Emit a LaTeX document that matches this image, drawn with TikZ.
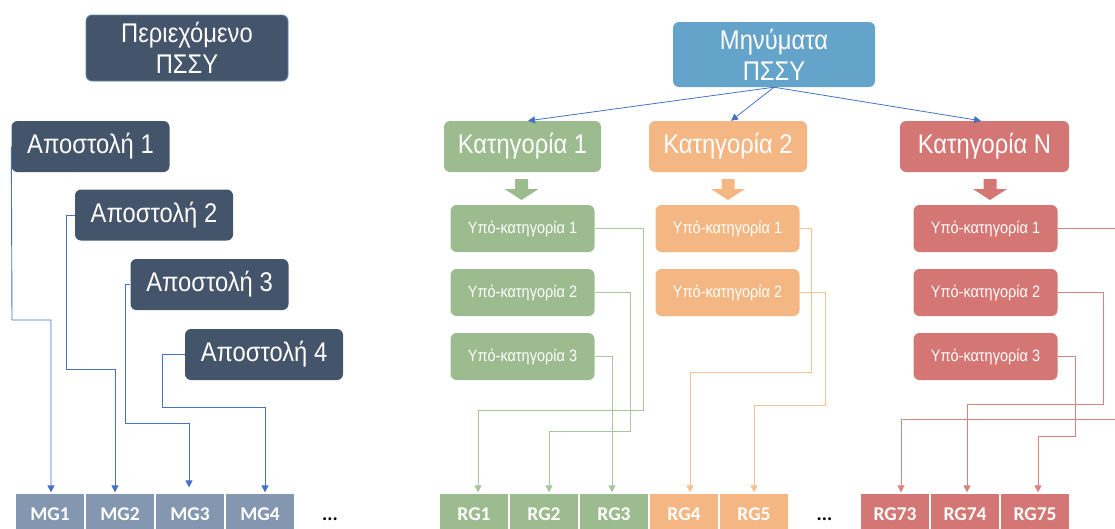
\documentclass[tikz,border=0pt]{standalone}
\usepackage{fontspec}
\setmainfont{Liberation Sans}
\newfontfamily\boxfont[FakeStretch=0.88]{Liberation Sans}
\newfontfamily\cellfamily{Carlito}
\usetikzlibrary{arrows.meta}

\definecolor{slate}{HTML}{44546A}
\definecolor{slateedge}{HTML}{5E86B0}
\definecolor{cellblue}{HTML}{8497B0}
\definecolor{msgblue}{HTML}{64A4CA}
\definecolor{linkblue}{HTML}{4472C4}
\definecolor{kgreen}{HTML}{9CBB8E}
\definecolor{korange}{HTML}{F4B783}
\definecolor{kred}{HTML}{D47674}
\definecolor{lgreen}{HTML}{A8C69B}
\definecolor{lorange}{HTML}{F7C08F}
\definecolor{lred}{HTML}{D98482}

\newcommand\bigtext{\boxfont\fontsize{27}{31}\selectfont}
\newcommand\subtext{\boxfont\fontsize{16.5}{19}\selectfont}
\newcommand\celltext{\cellfamily\bfseries\fontsize{19.5}{21}\selectfont}

\begin{document}
\begin{tikzpicture}[x=1pt,y=-1pt,
  box/.style={rounded corners=6pt, inner sep=0pt, text=white, align=center},
  big/.style={box, font=\bigtext},
  bigstep/.style={big, fill=slate, minimum width=158pt, minimum height=51pt},
  cat/.style={big, minimum height=51pt},
  sub/.style={box, font=\subtext, minimum width=144pt, minimum height=47pt},
  cell/.style={inner sep=0pt, minimum width=70pt, minimum height=42pt,
    text=white, font=\celltext, draw=white, line width=1.2pt},
  dots/.style={inner sep=0pt, font=\celltext, text=black},
  link/.style={line width=0.9pt, -{Triangle[length=7pt,width=7pt]}},
  blink/.style={link, draw=linkblue},
  glink/.style={link, draw=lgreen},
  olink/.style={link, draw=lorange},
  rlink/.style={link, draw=lred},
  downblock/.pic={\path[pic actions] (-6.5,-11) -- (6.5,-11) -- (6.5,-1)
    -- (17,-1) -- (0,10) -- (-17,-1) -- (-6.5,-1) -- cycle;},
]
\useasboundingbox (0,0) rectangle (1115,528);
\clip (0,0) rectangle (1115,528);

% ---------- left part: content and missions ----------
\node[big, fill=slate, draw=slateedge, line width=0.8pt,
  minimum width=202pt, minimum height=66pt] (content) at (187,48) {Περιεχόμενο\\ΠΣΣΥ};

\node[bigstep] (a1) at (90.5,146.5) {Αποστολή 1};
\node[bigstep] (a2) at (154,215) {Αποστολή 2};
\node[bigstep] (a3) at (209.5,284.5) {Αποστολή 3};
\node[bigstep] (a4) at (264,354.5) {Αποστολή 4};

\foreach \i/\x in {1/50,2/120,3/190,4/260}
  \node[cell, fill=cellblue] (mg\i) at (\x,514) {MG\i};
\node[dots] (mgdots) at (330,519) {...};

\draw[blink] (a1.west) -- (12,320) -| ([xshift=1pt]mg1.north);
\draw[blink] (a2.west) -| (66,369) -| ([xshift=-5pt]mg2.north);
\draw[blink, shorten >=5pt] (a3.west) -| (125,423) -| ([xshift=-1pt]mg3.north);
\draw[blink] (a4.west) -| (162,407) -| ([xshift=5pt]mg4.north);

% ---------- right part: messages, categories, groups ----------
\node[big, fill=msgblue, minimum width=202pt, minimum height=65pt] (msg) at (774,54.5) {Μηνύματα\\ΠΣΣΥ};

\node[cat, fill=kgreen, minimum width=157pt] (k1) at (522.5,146.5) {Κατηγορία 1};
\node[cat, fill=korange, minimum width=158pt] (k2) at (728,146.5) {Κατηγορία 2};
\node[cat, fill=kred, minimum width=169pt] (kn) at (984.5,146.5) {Κατηγορία N};

\draw[blink, line width=0.8pt] (msg.south) -- ([xshift=5.5pt]k1.north);
\draw[blink, line width=0.8pt] (msg.south) -- ([xshift=3pt]k2.north);
\draw[blink, line width=0.8pt] (msg.south) -- ([xshift=-3.5pt]kn.north);

\pic[fill=kgreen] at (521.5,190) {downblock};
\pic[fill=korange] at (728,190) {downblock};
\pic[fill=kred] at (990,190) {downblock};

\foreach \i/\y in {1/228.5,2/292.5,3/356.5}
  \node[sub, fill=kgreen] (sg\i) at (522.5,\y) {Υπό-κατηγορία \i};
\foreach \i/\y in {1/228.5,2/292.5}
  \node[sub, fill=korange] (so\i) at (727.5,\y) {Υπό-κατηγορία \i};
\foreach \i/\y in {1/228.5,2/292.5,3/356.5}
  \node[sub, fill=kred] (sr\i) at (985.5,\y) {Υπό-κατηγορία \i};

\foreach \i/\x in {1/474,2/544,3/614}
  \node[cell, fill=kgreen] (rg\i) at (\x,514) {RG\i};
\foreach \i/\x in {4/684,5/754}
  \node[cell, fill=korange] (rg\i) at (\x,514) {RG\i};
\foreach \i/\x in {73/895,74/965,75/1035}
  \node[cell, fill=kred] (rg\i) at (\x,514) {RG\i};
\node[dots] (rgdots) at (824.5,519) {...};

\draw[glink] (sg1.east) -| (643,410) -| ([xshift=4pt]rg1.north);
\draw[glink] (sg2.east) -| (630,431) -| ([xshift=5pt]rg2.north);
\draw[glink] (sg3.east) -| ([xshift=-2pt]rg3.north);

\draw[olink] (so1.east) -| (811,372) -| ([xshift=6pt]rg4.north);
\draw[olink] (so2.east) -| (825,405) -| (rg5.north);

\draw[rlink] (sr1.east) -| (1125,419) -| ([xshift=6pt]rg73.north);
\draw[rlink] (sr2.east) -| (1103,404) -| ([xshift=2pt]rg74.north);
\draw[rlink] (sr3.east) -| (1075,436) -| ([xshift=3pt]rg75.north);
\end{tikzpicture}
\end{document}
